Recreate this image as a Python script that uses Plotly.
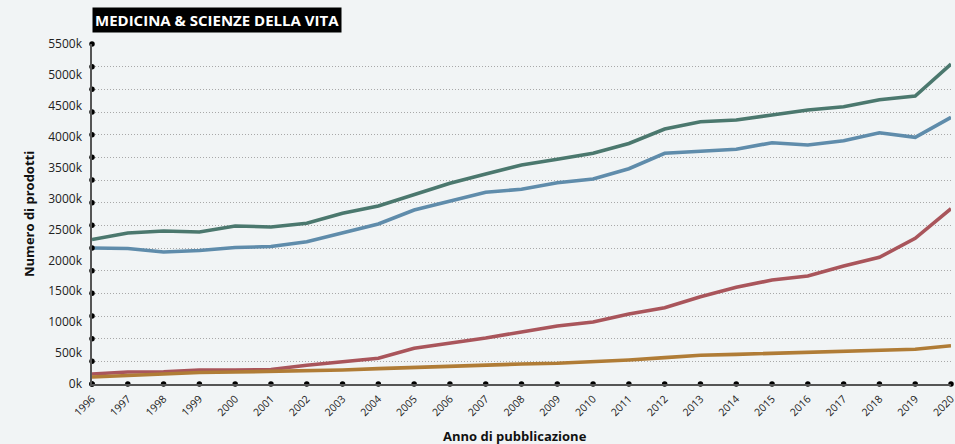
import plotly.graph_objects as go

# ---- data (values in thousands of products) ----
anni = list(range(1996, 2021))
serie_verde = [2338, 2443, 2475, 2459, 2556, 2540, 2600, 2761, 2879, 3069, 3247, 3397, 3543,
               3635, 3732, 3890, 4125, 4243, 4271, 4351, 4432, 4486, 4599, 4659, 5176]
serie_blu = [2200, 2192, 2135, 2160, 2208, 2224, 2302, 2438, 2588, 2815, 2965, 3101, 3150,
             3256, 3316, 3483, 3732, 3758, 3797, 3903, 3866, 3936, 4065, 3991, 4314]
serie_rossa = [162, 194, 199, 226, 226, 235, 302, 361, 416, 577, 658, 744, 841,
               938, 1003, 1132, 1234, 1412, 1564, 1682, 1747, 1909, 2049, 2357, 2836]
serie_arancio = [113, 137, 170, 186, 194, 202, 210, 226, 248, 270, 286, 302, 324,
                 335, 356, 388, 426, 464, 480, 497, 513, 523, 550, 561, 620]

y_label_vals = list(range(0, 5501, 500))
y_label_text = [f"{v}k" for v in y_label_vals]
y_max = 5500
n_grid = 15
grid_vals = [y_max * i / n_grid for i in range(n_grid + 1)]

colors = ["#4b786e", "#5f8cab", "#a9555b", "#b07c36"]
all_series = [serie_verde, serie_blu, serie_rossa, serie_arancio]

FONT = "Open Sans"
W, H = 955, 444
ML, MR, MT, MB = 92, 4, 44, 60
PW, PH = W - ML - MR, H - MT - MB
bg = "#f1f4f5"

fig = go.Figure()

for s, c in zip(all_series, colors):
    fig.add_trace(go.Scatter(x=anni, y=s, mode="lines",
                             line=dict(color=c, width=3.6),
                             hoverinfo="skip", showlegend=False))

# axis dots (tick markers)
fig.add_trace(go.Scatter(x=[anni[0]] * len(grid_vals), y=grid_vals, mode="markers",
                         marker=dict(color="black", size=5.5), cliponaxis=False,
                         showlegend=False, hoverinfo="skip"))
fig.add_trace(go.Scatter(x=anni, y=[0] * len(anni), mode="markers",
                         marker=dict(color="black", size=5.5), cliponaxis=False,
                         showlegend=False, hoverinfo="skip", yaxis="y2"))

fig.update_layout(
    width=W, height=H,
    paper_bgcolor=bg, plot_bgcolor=bg,
    margin=dict(l=ML, r=MR, t=MT, b=MB, autoexpand=False),
    font=dict(family=FONT, color="#222", size=12),
    xaxis=dict(range=[anni[0], anni[-1]], tickvals=anni, ticktext=[str(a) for a in anni],
               tickangle=-45, showgrid=False, zeroline=False, automargin=False,
               showline=True, linecolor="#555", linewidth=1.5, ticklabeloverflow="allow",
               ticks="", ticklabelstandoff=3, tickfont=dict(size=10.5, family=FONT)),
    yaxis=dict(range=[0, y_max], tickvals=grid_vals, showticklabels=False, automargin=False,
               showgrid=True, gridcolor="#a8a8a8", griddash="1px,2px", gridwidth=1,
               zeroline=False, showline=True, linecolor="#555", linewidth=1.5, ticks=""),
    yaxis2=dict(range=[0, y_max], overlaying="y", side="left", tickvals=y_label_vals,
                ticktext=y_label_text, showgrid=False, zeroline=False, showline=False,
                automargin=False,
                ticks="", ticklabelstandoff=9, tickfont=dict(size=12, family=FONT)),
    annotations=[
        dict(text="<b>MEDICINA & SCIENZE DELLA VITA</b>", xref="paper", yref="paper",
             x=0, y=1, xanchor="left", yanchor="bottom", yshift=11,
             showarrow=False, bgcolor="black", font=dict(color="white", size=15, family=FONT),
             borderpad=2),
        dict(text="<b>Numero di prodotti</b>", xref="paper", yref="paper",
             x=(29 - ML) / PW, y=(MT + PH - 214) / PH, xanchor="center", yanchor="middle",
             textangle=-90, showarrow=False, font=dict(size=13, family=FONT, color="#111")),
        dict(text="<b>Anno di pubblicazione</b>", xref="paper", yref="paper",
             x=(515 - ML) / PW, y=(MT + PH - 436) / PH, xanchor="center", yanchor="middle",
             showarrow=False, font=dict(size=13, family=FONT, color="#111")),
    ],
)

fig.write_html("out.html", config={"displayModeBar": False},
               post_script="document.body.style.margin='0';document.body.style.background='" + bg + "';"
                           "document.documentElement.style.overflow='hidden';")
